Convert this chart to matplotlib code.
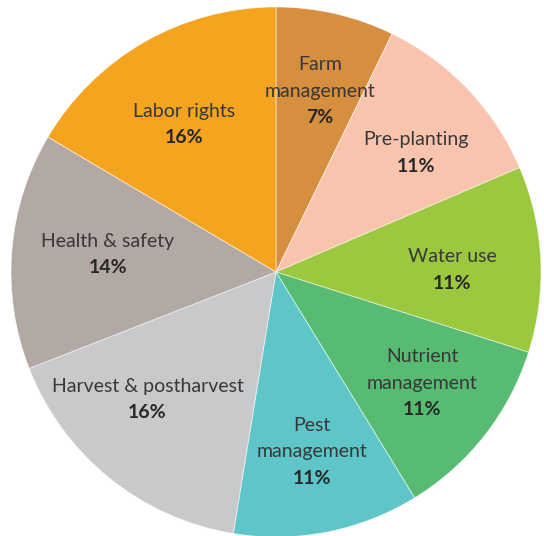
import numpy as np
import matplotlib.pyplot as plt

labels = ["Farm\nmanagement", "Pre-planting", "Water use", "Nutrient\nmanagement",
          "Pest\nmanagement", "Harvest & postharvest", "Health & safety", "Labor rights"]
shares = [7, 11, 11, 11, 11, 16, 14, 16]
colors = ["#D68F3E", "#F9C4AE", "#9BC83F", "#57BB72",
          "#5EC6C8", "#C8C9CB", "#B3A9A4", "#F5A41F"]

# label placement: fraction of radius, and nudge (deg, clockwise) from the wedge middle
label_r = [0.710, 0.698, 0.664, 0.688, 0.685, 0.678, 0.638, 0.662]
label_nudge = [0.5, 2.8, 1.5, -1.3, -0.3, 6.7, 1.9, -1.9]

plt.rcParams['font.family'] = ['Lato', 'DejaVu Sans']

fig = plt.figure(figsize=(5.44, 5.36), dpi=100)
ax = fig.add_axes([0, 0, 1, 1])

R = 265.0
cx, cy = 276.0, 536 - 272.0

wedges, _ = ax.pie(shares, colors=colors, startangle=90, counterclock=False,
                   wedgeprops=dict(edgecolor=(1, 1, 1, 0.6), linewidth=0.6))

step = 26.5 / R
for w, lab, s, r, nd in zip(wedges, labels, shares, label_r, label_nudge):
    mid = np.deg2rad((w.theta1 + w.theta2) / 2 - nd)
    x = r * np.cos(mid)
    y = r * np.sin(mid) - 2 / R  # small downward shift
    lines = lab.split("\n")
    n = len(lines) + 1
    top = y + step * n / 2
    for i, line in enumerate(lines):
        ax.text(x, top - step * (i + 0.5), line, ha="center", va="center",
                fontsize=14, color="#383838")
    ax.text(x, top - step * (n - 0.5), f"{s}%", ha="center", va="center",
            fontsize=14, fontweight="bold", color="#262626")

ax.set_xlim(-cx / R, (544 - cx) / R)
ax.set_ylim(-cy / R, (536 - cy) / R)
ax.set_aspect("auto")
ax.axis("off")

fig.savefig("out.png", dpi=100, facecolor="white")
